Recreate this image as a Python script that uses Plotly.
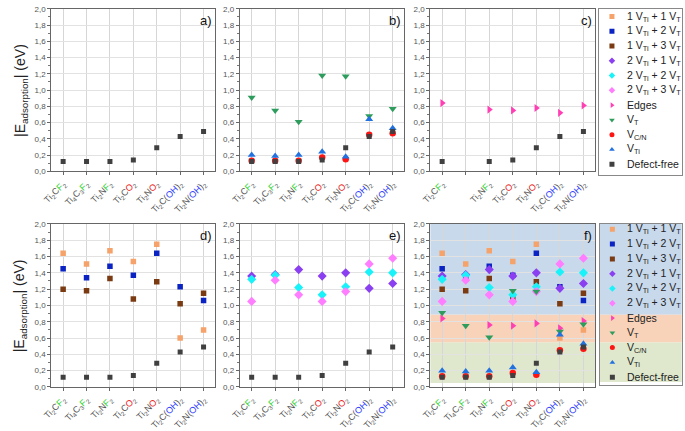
import plotly.graph_objects as go

# ---------------- data ----------------
categories = ["Ti2CF2", "Ti4C3F2", "Ti2NF2", "Ti2CO2", "Ti2NO2", "Ti2C(OH)2", "Ti2N(OH)2"]
GRN, RED, BLU = "#2fd52f", "#ee2020", "#2b3cff"
tick_labels = [
    f"Ti<sub>2</sub>C<span style='color:{GRN}'>F</span><sub>2</sub>",
    f"Ti<sub>4</sub>C<sub>3</sub><span style='color:{GRN}'>F</span><sub>2</sub>",
    f"Ti<sub>2</sub>N<span style='color:{GRN}'>F</span><sub>2</sub>",
    f"Ti<sub>2</sub>C<span style='color:{RED}'>O</span><sub>2</sub>",
    f"Ti<sub>2</sub>N<span style='color:{RED}'>O</span><sub>2</sub>",
    f"Ti<sub>2</sub>C(<span style='color:{BLU}'>OH</span>)<sub>2</sub>",
    f"Ti<sub>2</sub>N(<span style='color:{BLU}'>OH</span>)<sub>2</sub>",
]

defect_free = [0.12, 0.12, 0.12, 0.14, 0.29, 0.43, 0.49]
v_ti = [0.20, 0.19, 0.20, 0.24, 0.18, 0.64, 0.53]
v_cn = [0.13, 0.13, 0.13, 0.17, 0.15, 0.45, 0.47]
v_t = [0.91, 0.75, 0.61, 1.18, 1.17, 0.68, 0.77]
edges = [0.84, None, 0.76, 0.75, 0.78, 0.72, 0.81]
v1ti_1vt = [1.64, 1.51, 1.67, 1.54, 1.75, 0.60, 0.70]
v1ti_2vt = [1.45, 1.34, 1.48, 1.37, 1.64, 1.23, 1.06]
v1ti_3vt = [1.20, 1.18, 1.33, 1.08, 1.29, 1.02, 1.15]
v2ti_1vt = [1.36, 1.38, 1.44, 1.36, 1.40, 1.21, 1.27]
v2ti_2vt = [1.32, 1.37, 1.22, 1.13, 1.23, 1.41, 1.40]
v2ti_3vt = [1.05, 1.31, 1.13, 1.05, 1.17, 1.51, 1.58]

# defect-free values shown in panel c (Ti4C3F2 not present there)
defect_free_c = [0.12, None, 0.12, 0.14, 0.29, 0.43, 0.49]

legend_names = [
    "1 V<sub>Ti</sub> + 1 V<sub>T</sub>", "1 V<sub>Ti</sub> + 2 V<sub>T</sub>",
    "1 V<sub>Ti</sub> + 3 V<sub>T</sub>", "2 V<sub>Ti</sub> + 1 V<sub>T</sub>",
    "2 V<sub>Ti</sub> + 2 V<sub>T</sub>", "2 V<sub>Ti</sub> + 3 V<sub>T</sub>",
    "Edges", "V<sub>T</sub>", "V<sub>C/N</sub>", "V<sub>Ti</sub>", "Defect-free",
]
# energy bands of panel f (green, orange, blue) in eV
band_edges = [0.05, 0.55, 0.89, 2.0]

# ---------------- styles ----------------
W, H = 685, 431
FONT = "Arial, Liberation Sans, sans-serif"
styles = {
    "1+1": ("#f5a36a", "square", 5.5),
    "1+2": ("#0b23c2", "square", 5.5),
    "1+3": ("#7a3a12", "square", 5.5),
    "2+1": ("#8a3ff0", "diamond", 7),
    "2+2": ("#19f2f8", "diamond", 7),
    "2+3": ("#ff7dff", "diamond", 7),
    "edges": ("#ff3fb4", "triangle-right", 7),
    "vt": ("#2e9c5c", "triangle-down", 7),
    "vcn": ("#ff1414", "circle", 6.5),
    "vti": ("#2171e0", "triangle-up", 7),
    "df": ("#404040", "square", 5),
}
series_order = ["1+1", "1+2", "1+3", "2+1", "2+2", "2+3", "edges", "vt", "vcn", "vti", "df"]
values = {
    "1+1": v1ti_1vt, "1+2": v1ti_2vt, "1+3": v1ti_3vt,
    "2+1": v2ti_1vt, "2+2": v2ti_2vt, "2+3": v2ti_3vt,
    "edges": edges, "vt": v_t, "vcn": v_cn, "vti": v_ti, "df": defect_free,
}

def dx(l, r):
    return [l / W, r / W]

def dy(t, b):
    return [1 - b / H, 1 - t / H]

TOP, BOT = (5, 171.7), (225.7, 393)
COLS = [(43, 209), (234, 400.7), (427, 594)]
panels = [
    dict(i=1, col=0, row=TOP, label="a)", series=["df"]),
    dict(i=2, col=1, row=TOP, label="b)", series=["vt", "vcn", "vti", "df"]),
    dict(i=3, col=2, row=TOP, label="c)", series=["edges", "df"]),
    dict(i=4, col=0, row=BOT, label="d)", series=["1+1", "1+2", "1+3", "df"]),
    dict(i=5, col=1, row=BOT, label="e)", series=["2+1", "2+2", "2+3", "df"]),
    dict(i=6, col=2, row=BOT, label="f)", series=series_order),
]

fig = go.Figure()
layout = dict(
    width=W, height=H, margin=dict(l=0, r=0, t=0, b=0),
    paper_bgcolor="white", plot_bgcolor="white", showlegend=False,
    separators=",.", font=dict(family=FONT, color="#333"),
)
annotations, shapes = [], []

for p in panels:
    i = p["i"]
    sfx = "" if i == 1 else str(i)
    for key in series_order:
        if key not in p["series"]:
            continue
        col, sym, size = styles[key]
        yv = values[key]
        if i == 3 and key == "df":
            yv = defect_free_c
        fig.add_trace(go.Scatter(
            x=categories, y=yv, mode="markers", xaxis="x" + sfx, yaxis="y" + sfx,
            marker=dict(color=col, symbol=sym, size=size, line=dict(width=0)),
            hoverinfo="x+y",
        ))
    ttext = list(tick_labels)
    if i == 3:
        ttext[1] = ""
    l, r = COLS[p["col"]]
    layout["xaxis" + sfx] = dict(
        domain=dx(l, r), anchor="y" + sfx, type="category",
        categoryorder="array", categoryarray=categories, range=[-0.5, 6.5],
        tickmode="array", tickvals=categories, ticktext=ttext, tickangle=-45,
        tickfont=dict(size=9, color="#555"), showgrid=True, gridcolor="#d6d6d6",
        gridwidth=1, showline=True, linecolor="#666", linewidth=1.2, mirror=True,
        ticks="outside", ticklen=3, tickcolor="#666", zeroline=False,
    )
    layout["yaxis" + sfx] = dict(
        domain=dy(*p["row"]), anchor="x" + sfx, range=[0, 2], dtick=0.2, tick0=0,
        tickformat=".1f", tickfont=dict(size=8, color="#555"),
        showgrid=True, gridcolor="#e2e2e2", gridwidth=1,
        showline=True, linecolor="#666", linewidth=1.2, mirror=True,
        ticks="outside", ticklen=3, tickcolor="#666", zeroline=False,
        minor=dict(dtick=0.1, ticks="outside", ticklen=2, tickcolor="#777", showgrid=False),
    )
    # overlaid axis giving the darker major grid every 0.4
    layout[f"yaxis{10 + i}"] = dict(
        overlaying="y" + sfx, anchor="x" + sfx, range=[0, 2], dtick=0.4, tick0=0,
        showgrid=True, gridcolor="#c4c4c4", gridwidth=1, showticklabels=False,
        ticks="", showline=False, zeroline=False, fixedrange=True,
    )
    annotations.append(dict(
        text=p["label"], xref=f"x{sfx} domain", yref=f"y{sfx} domain",
        x=0.99, y=0.985, xanchor="right", yanchor="top", showarrow=False,
        font=dict(size=13, color="#111"),
    ))

# panel f background bands
band_colors = ["#dfe8cc", "#f8d2b9", "#c8d9ec"]
for k, c in enumerate(band_colors):
    shapes.append(dict(
        type="rect", xref="x6 domain", yref="y6", x0=0, x1=1,
        y0=band_edges[k], y1=band_edges[k + 1], fillcolor=c, line=dict(width=0),
        layer="below",
    ))

# y axis titles
for row in (TOP, BOT):
    annotations.append(dict(
        text="|E<sub>adsorption</sub>| (eV)", xref="paper", yref="paper",
        x=12 / W, y=1 - (row[0] + row[1]) / 2 / H, textangle=-90,
        showarrow=False, xanchor="center", yanchor="middle",
        font=dict(size=14, color="#222"),
    ))

# legends as small subplots
leg_boxes = [
    dict(i=7, x=(598.3, 681.7), y=(5, 175), rng=[10.7, -0.52]),
    dict(i=8, x=(598.8, 681.7), y=(225.3, 391), rng=[10.53, -0.39]),
]
leg_idx = list(range(len(legend_names)))
for lb in leg_boxes:
    s = str(lb["i"])
    fig.add_trace(go.Scatter(
        x=[0.152] * len(leg_idx), y=leg_idx, mode="markers", xaxis="x" + s, yaxis="y" + s,
        marker=dict(color=[styles[k][0] for k in series_order],
                    symbol=[styles[k][1] for k in series_order],
                    size=5, line=dict(width=0)),
        hoverinfo="skip",
    ))
    layout["xaxis" + s] = dict(
        domain=dx(*lb["x"]), anchor="y" + s, range=[0, 1], showgrid=False,
        zeroline=False, showticklabels=False, ticks="", showline=True,
        linecolor="#888", linewidth=1, mirror=True, fixedrange=True,
    )
    layout["yaxis" + s] = dict(
        domain=dy(*lb["y"]), anchor="x" + s, range=lb["rng"], showgrid=False,
        zeroline=False, showticklabels=False, ticks="", showline=True,
        linecolor="#888", linewidth=1, mirror=True, fixedrange=True,
    )
    for j, name in enumerate(legend_names):
        annotations.append(dict(
            text=name, xref="x" + s, yref="y" + s, x=0.31, y=j,
            xanchor="left", yanchor="middle", showarrow=False,
            font=dict(size=10.5, color="#222"),
        ))

# legend bands for bottom legend (blue: first six, orange: Edges & V_T, green: rest)
leg_band_edges = [-0.39, 5.77, 7.66, 10.33]
leg_band_colors = ["#c8d9ec", "#f8d2b9", "#dfe8cc"]
for k, c in enumerate(leg_band_colors):
    shapes.append(dict(
        type="rect", xref="x8 domain", yref="y8", x0=0, x1=1,
        y0=leg_band_edges[k], y1=leg_band_edges[k + 1], fillcolor=c,
        line=dict(width=0), layer="below",
    ))

layout["annotations"] = annotations
layout["shapes"] = shapes
fig.update_layout(**layout)
fig.write_html(
    "out.html",
    config={"displayModeBar": False},
    post_script="document.body.style.margin='0';document.body.style.padding='0';"
                "document.body.style.overflow='hidden';",
)
